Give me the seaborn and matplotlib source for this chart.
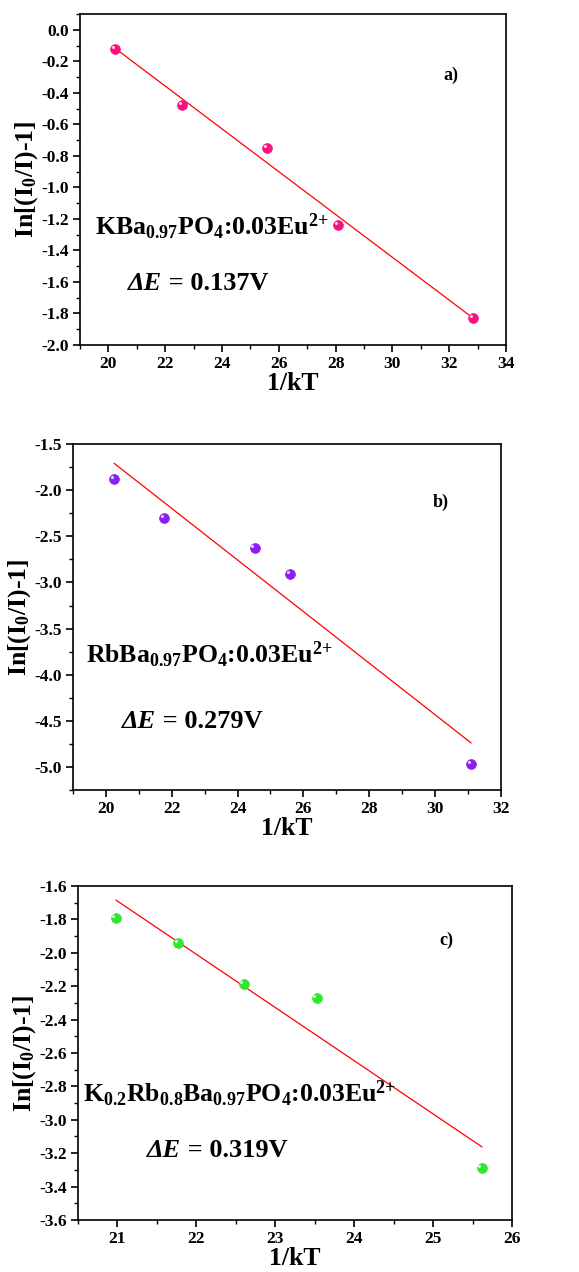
import numpy as np
import pandas as pd
import seaborn as sns
import matplotlib.pyplot as plt
from matplotlib.ticker import MultipleLocator, AutoMinorLocator

# Panel a) KBa0.97PO4:0.03Eu2+
x_a = [20.25, 22.60, 25.60, 28.10, 32.85]
y_a = [-0.12, -0.48, -0.75, -1.24, -1.83]

# Panel b) RbBa0.97PO4:0.03Eu2+
x_b = [20.25, 21.77, 24.53, 25.60, 31.10]
y_b = [-1.88, -2.30, -2.63, -2.91, -4.97]

# Panel c) K0.2Rb0.8Ba0.97PO4:0.03Eu2+
x_c = [20.98, 21.77, 22.60, 23.53, 25.62]
y_c = [-1.79, -1.94, -2.19, -2.27, -3.29]

labels = ["a)", "b)", "c)"]
formulas = [r"KBa$_{0.97}$PO$_4$:0.03Eu$^{2{+}}$",
            r"RbBa$_{0.97}$PO$_4$:0.03Eu$^{2{+}}$",
            r"K$_{0.2}$Rb$_{0.8}$Ba$_{0.97}$PO$_4$:0.03Eu$^{2{+}}$"]
energies = ["0.137V", "0.279V", "0.319V"]

sns.set_style("ticks")
plt.rcParams["font.family"] = ["Liberation Serif", "DejaVu Serif"]
plt.rcParams["font.weight"] = "bold"
plt.rcParams["mathtext.fontset"] = "custom"
plt.rcParams["mathtext.rm"] = "Liberation Serif:bold"
plt.rcParams["mathtext.bf"] = "Liberation Serif:bold"
plt.rcParams["mathtext.it"] = "Liberation Serif:bold:italic"
for key in ["text.color", "axes.labelcolor", "xtick.color", "ytick.color", "axes.edgecolor"]:
    plt.rcParams[key] = "black"

fig = plt.figure(figsize=(5.79, 12.72), dpi=100)

panels = [
    dict(x=x_a, y=y_a, color="#f5147f", rect=[0.138, 0.7288, 0.736, 0.2602],
         xlim=(19, 34), ylim=(-2.0, 0.1), xmaj=2, ymaj=0.2,
         f_pos=(0.035, 0.332), e_pos=(0.113, 0.150), l_pos=(0.852, 0.80)),
    dict(x=x_b, y=y_b, color="#8a1ff0", rect=[0.126, 0.3789, 0.739, 0.272],
         xlim=(19, 32), ylim=(-5.25, -1.5), xmaj=2, ymaj=0.5,
         f_pos=(0.030, 0.367), e_pos=(0.114, 0.164), l_pos=(0.841, 0.818)),
    dict(x=x_c, y=y_c, color="#2ee82e", rect=[0.1347, 0.0409, 0.7496, 0.2626],
         xlim=(20.5, 26), ylim=(-3.6, -1.6), xmaj=1, ymaj=0.2,
         f_pos=(0.012, 0.353), e_pos=(0.159, 0.173), l_pos=(0.832, 0.823)),
]

for i, p in enumerate(panels):
    ax = fig.add_axes(p["rect"])
    df = pd.DataFrame({"x": p["x"], "y": p["y"]})

    # linear fit line
    sns.regplot(data=df, x="x", y="y", ax=ax, scatter=False, ci=None,
                truncate=True, line_kws=dict(color="red", lw=0.9))
    # ball markers + small highlight
    sns.scatterplot(data=df, x="x", y="y", ax=ax, color=p["color"], s=50,
                    edgecolor=p["color"], linewidth=0.5, zorder=3)
    ax.plot(df["x"] - 0.006 * (p["xlim"][1] - p["xlim"][0]),
            df["y"] + 0.006 * (p["ylim"][1] - p["ylim"][0]),
            "o", ms=2.2, color="white", alpha=0.8, mec="none", zorder=4)

    ax.set_xlim(p["xlim"])
    ax.set_ylim(p["ylim"])
    ax.xaxis.set_major_locator(MultipleLocator(p["xmaj"]))
    ax.yaxis.set_major_locator(MultipleLocator(p["ymaj"]))
    ax.xaxis.set_minor_locator(AutoMinorLocator(2))
    ax.yaxis.set_minor_locator(AutoMinorLocator(2))
    ax.yaxis.set_major_formatter(plt.FuncFormatter(lambda v, _: f"{v:.1f}"))
    ax.tick_params(which="major", direction="out", length=5, width=1.2,
                   labelsize=12.5, top=False, right=False, pad=3)
    ax.tick_params(which="minor", direction="out", length=3, width=1.0,
                   top=False, right=False)
    for lab in ax.get_xticklabels() + ax.get_yticklabels():
        lab.set_fontweight("bold")
    for sp in ax.spines.values():
        sp.set_linewidth(1.2)

    ax.set_xlabel("1/kT", fontsize=18.5, fontweight="bold", labelpad=0)
    ax.set_ylabel(r"In[(I$_0$/I)-1]", fontsize=18.5, fontweight="bold", labelpad=1)

    ax.text(*p["f_pos"], formulas[i], transform=ax.transAxes, fontsize=18.5,
            fontweight="bold", va="baseline", ha="left")
    de = ax.text(*p["e_pos"], "\u0394E", transform=ax.transAxes, fontsize=19,
                 fontweight="bold", fontstyle="italic", va="bottom", ha="left")
    ax.annotate(" = " + energies[i], xy=(1, 0), xycoords=de, fontsize=19,
                fontweight="bold", va="bottom", ha="left")
    ax.text(*p["l_pos"], labels[i], transform=ax.transAxes, fontsize=13,
            fontweight="bold", va="baseline", ha="left")

fig.savefig("out.png", dpi=100)
